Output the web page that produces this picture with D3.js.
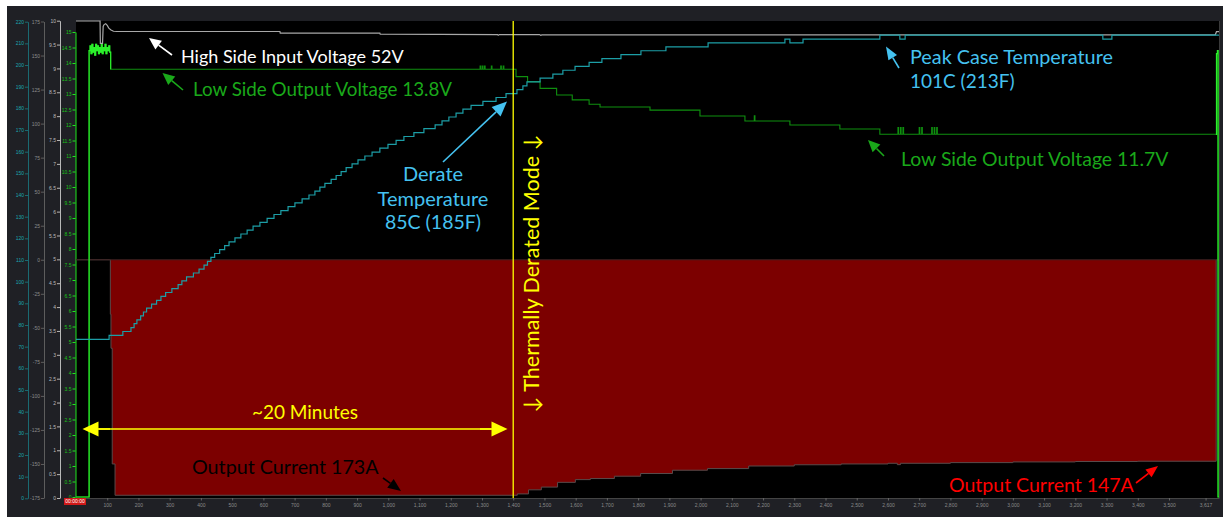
<!DOCTYPE html>
<html>
<head>
<meta charset="utf-8">
<script src="https://cdn.jsdelivr.net/npm/d3@7"></script>
<style>
  html, body { margin: 0; padding: 0; background: #fff; }
  svg { display: block; }
  .ann { font-family: Lato, "Open Sans", sans-serif; font-size: 19px; }
  .tick text { font-family: "Liberation Sans", Arial, sans-serif; }
</style>
</head>
<body>
<script>
// ---- data (time in seconds) ----
var timeTicks = [100, 200, 300, 400, 500, 600, 700, 800, 900, 1000, 1100, 1200, 1300, 1400, 1500, 1600, 1700,
  1800, 1900, 2000, 2100, 2200, 2300, 2400, 2500, 2600, 2700, 2800, 2900, 3000, 3100, 3200, 3300, 3400, 3500, 3617];

var tempAxisTicks = [0, 10, 20, 30, 40, 50, 60, 70, 80, 90, 100, 110, 120, 130, 140, 150, 160, 170, 180, 190, 200, 210, 220];
var currentAxisTicks = [-175, -150, -125, -100, -75, -50, -25, 0, 25, 50, 75, 100, 125, 150, 175];
var scaleAxisTicks = [0, 0.5, 1, 1.5, 2, 2.5, 3, 3.5, 4, 4.5, 5, 5.5, 6, 6.5, 7, 7.5, 8, 8.5, 9, 9.5, 10];
var voltAxisTicks = [0, 0.5, 1, 1.5, 2, 2.5, 3, 3.5, 4, 4.5, 5, 5.5, 6, 6.5, 7, 7.5, 8, 8.5, 9, 9.5, 10,
  10.5, 11, 11.5, 12, 12.5, 13, 13.5, 14, 14.5, 15];

// case temperature [t, degC]  (drawn on the F axis)
var caseTemp = [[0, 23], [106, 24], [150, 25], [176, 26], [186, 27], [195, 28], [207, 29], [216, 30], [226, 31],
  [242, 32], [258, 33], [272, 34], [287, 35], [307, 36], [327, 37], [339, 38], [354, 39], [376, 40], [394, 41],
  [410, 42], [421, 43], [432, 44], [444, 45], [460, 46], [476, 47], [490, 48], [509, 49], [528, 50], [548, 51],
  [567, 52], [589, 53], [612, 54], [634, 55], [656, 56], [679, 57], [701, 58], [724, 59], [746, 60], [765, 61],
  [781, 62], [797, 63], [817, 64], [833, 65], [849, 66], [865, 67], [884, 68], [903, 69], [925, 70], [948, 71],
  [973, 72], [999, 73], [1025, 74], [1050, 75], [1082, 76], [1114, 77], [1150, 78], [1172, 79], [1194, 80],
  [1217, 81], [1239, 82], [1265, 83], [1303, 84], [1345, 85], [1377, 86], [1412, 87], [1431, 88], [1444, 89],
  [1486, 90], [1527, 91], [1559, 92], [1598, 93], [1643, 94], [1684, 95], [1745, 96], [1809, 97], [1889, 98],
  [2024, 99], [2270, 100], [2286, 99], [2328, 100], [2574, 101], [2638, 100], [2655, 101], [3288, 100],
  [3317, 101], [3660, 101]];

// high side input voltage [t, V]
var highSideVolt = [[0, 53.5], [77, 53.5], [78, 51.0], [85, 51.0], [87, 52.9], [90, 53.1], [95, 53.2], [100, 53.0],
  [105, 52.7], [112, 52.5], [120, 52.35], [131, 52.32], [653, 52.32], [654, 52.14], [973, 52.14], [974, 52.03],
  [1350, 51.98], [1352, 51.9], [1356, 51.98], [1484, 51.98], [1488, 51.9], [1492, 51.95], [3648, 51.95],
  [3652, 52.3], [3660, 52.3]];

// low side output voltage [t, V]
var lowSideVolt = [[0, 0], [41, 0], [42, 14.4], [45, 14.55], [48, 14.3], [51, 14.6], [54, 14.35], [57, 14.5],
  [60, 14.25], [63, 14.6], [66, 14.4], [69, 14.55], [72, 14.3], [75, 14.5], [78, 14.35], [81, 14.6], [84, 14.3],
  [87, 14.5], [90, 14.4], [93, 14.6], [96, 14.3], [99, 14.5], [102, 14.4], [105, 14.55], [108, 14.35], [111, 13.8],
  [1294, 13.9], [1296, 13.8], [1301, 13.9], [1303, 13.8], [1308, 13.9], [1310, 13.8], [1330, 13.9], [1332, 13.8],
  [1360, 13.9], [1362, 13.8], [1368, 13.9], [1370, 13.8],
  [1409, 13.56], [1446, 13.4], [1486, 13.18], [1539, 12.97], [1589, 12.81], [1643, 12.67], [1678, 12.58],
  [1838, 12.48], [1998, 12.29], [2142, 12.13], [2172, 12.3], [2174, 12.13], [2286, 12.0], [2446, 11.87],
  [2574, 11.7], [2632, 11.92], [2634, 11.7], [2640, 11.92], [2642, 11.7], [2648, 11.92], [2650, 11.7],
  [2700, 11.92], [2702, 11.7], [2708, 11.92], [2710, 11.7], [2740, 11.92], [2742, 11.7], [2748, 11.92], [2750, 11.7],
  [2756, 11.92], [2758, 11.7], [3650, 11.7], [3652, 14.3], [3655, 14.4], [3657, 0], [3660, 0]];

// output current [t, A]  (load current drawn negative)
var outputCurrent = [[0, 0], [108, 0], [110, -40], [112, -65], [116, -150], [125, -173], [1400, -173],
  [1413, -172], [1449, -169], [1490, -167], [1542, -163.5], [1599, -161.5], [1647, -160.7], [1724, -159],
  [1808, -157], [1910, -154.6], [2022, -153.4], [2154, -151.5], [2300, -150.6], [2450, -150], [2600, -149.5],
  [2630, -150.5], [2640, -149.5], [2800, -149], [3000, -148.5], [3200, -148.2], [3400, -148], [3651, 0], [3660, 0]];

var derateTime = 1400;

// ---- canvas ----
var W = 1223, H = 517;
var plot = {left: 76, right: 1219, top: 21, bottom: 498};

var svg = d3.select("body").append("svg")
  .attr("width", W)
  .attr("height", H);

svg.append("rect").attr("x", 7).attr("y", 6).attr("width", W - 7).attr("height", H - 6).attr("fill", "#1f2025");
svg.append("rect")
  .attr("x", plot.left).attr("y", plot.top)
  .attr("width", plot.right - plot.left).attr("height", plot.bottom - plot.top)
  .attr("fill", "#000");

// scales
var x = d3.scaleLinear().domain([0, 3660]).range([plot.left, plot.right]);
var yTemp = d3.scaleLinear().domain([0, 220]).range([498.3, 21.7]);
var yCur = d3.scaleLinear().domain([-175, 175]).range([498, 21.5]);
var yScale3 = d3.scaleLinear().domain([0, 10]).range([498, 20.7]);
var yLow = d3.scaleLinear().domain([0, 15]).range([497, 32]);
var yHigh = d3.scaleLinear().domain([0, 53.5]).range([498, 21]);

var cToF = c => 32 + 1.8 * c;

drawLeftAxis(28, yTemp, tempAxisTicks, 110, "#1a6a72", "#1aa6ae");
drawLeftAxis(44, yCur, currentAxisTicks, 70, "#5d5d5d", "#8a8a8a");
drawLeftAxis(60, yScale3, scaleAxisTicks, 100, "#b8b8b8", "#bdbdbd");
drawLeftAxis(75.5, yLow, voltAxisTicks, 60, "#1ee61e", "#18c018");
drawTimeAxis();

var plotG = svg.append("g");

// output current as filled area
plotG.append("path")
  .datum(outputCurrent)
  .attr("fill", "#7c0000")
  .attr("d", d3.area()
    .x(d => x(d[0]))
    .y0(yCur(0))
    .y1(d => yCur(d[1]))
    .curve(d3.curveStepAfter));

plotG.append("path")
  .datum(outputCurrent)
  .attr("fill", "none")
  .attr("stroke", "#5a4a4a")
  .attr("stroke-width", 1)
  .attr("d", d3.line().x(d => x(d[0])).y(d => yCur(d[1])).curve(d3.curveStepAfter));

// top edge of current area
plotG.append("line")
  .attr("x1", plot.left).attr("x2", plot.right)
  .attr("y1", yCur(0)).attr("y2", yCur(0))
  .attr("stroke", "#3a2020");

// low side output voltage
var lowLine = d3.line().x(d => x(d[0])).y(d => yLow(d[1])).curve(d3.curveStepAfter);
plotG.append("path")
  .datum(lowSideVolt)
  .attr("fill", "none")
  .attr("stroke", "#0f8f0f")
  .attr("stroke-width", 1.1)
  .attr("d", lowLine);
// startup and shutdown parts are drawn brighter
[lowSideVolt.filter(d => d[0] <= 111), lowSideVolt.filter(d => d[0] >= 3650)].forEach(part => {
  plotG.append("path")
    .datum(part)
    .attr("fill", "none")
    .attr("stroke", "#2cf02c")
    .attr("stroke-width", 1.2)
    .attr("d", lowLine);
});

// high side input voltage
plotG.append("path")
  .datum(highSideVolt)
  .attr("fill", "none")
  .attr("stroke", "#a8a8a8")
  .attr("stroke-width", 1.2)
  .attr("d", d3.line().x(d => x(d[0])).y(d => yHigh(d[1])));

// case temperature
plotG.append("path")
  .datum(caseTemp)
  .attr("fill", "none")
  .attr("stroke", "#1c9ea6")
  .attr("stroke-width", 1.2)
  .attr("d", d3.line().x(d => x(d[0])).y(d => yTemp(cToF(d[1]))).curve(d3.curveStepAfter));

// derate marker
plotG.append("line")
  .attr("x1", x(derateTime)).attr("x2", x(derateTime))
  .attr("y1", plot.top).attr("y2", plot.bottom)
  .attr("stroke", "#ffff00")
  .attr("stroke-width", 1.3);

// right border
svg.append("line").attr("x1", plot.right + 0.5).attr("x2", plot.right + 0.5)
  .attr("y1", plot.top).attr("y2", plot.bottom).attr("stroke", "#3a3a3a");

drawAnnotations();

function drawLeftAxis(xPos, scale, ticks, minorCount, lineColor, textColor) {
  var g = svg.append("g").attr("transform", `translate(${xPos},0)`);
  g.call(d3.axisLeft(scale).ticks(minorCount).tickSize(1.6).tickSizeOuter(0).tickFormat(""));
  g.call(d3.axisLeft(scale).tickValues(ticks).tickSize(3).tickSizeOuter(0).tickPadding(1)
    .tickFormat(d => d.toString()));
  g.selectAll(".domain").attr("stroke", lineColor);
  g.selectAll(".tick line").attr("stroke", lineColor);
  g.selectAll(".tick text").attr("fill", textColor).style("font-size", "5px");
}

function drawTimeAxis() {
  var g = svg.append("g").attr("transform", `translate(0,${plot.bottom})`);
  g.call(d3.axisBottom(x).ticks(180).tickSize(1.5).tickSizeOuter(0).tickFormat(""));
  g.call(d3.axisBottom(x).tickValues(timeTicks).tickSize(2.5).tickSizeOuter(0).tickPadding(2.5)
    .tickFormat(d3.format(",")));
  g.selectAll(".domain").attr("stroke", "#444");
  g.selectAll(".tick line").attr("stroke", "#666");
  g.selectAll(".tick text").attr("fill", "#8a8a8a").style("font-size", "5px");

  // start time badge
  svg.append("rect").attr("x", 64).attr("y", plot.bottom).attr("width", 22).attr("height", 7)
    .attr("fill", "#d01818");
  svg.append("text").attr("x", 75).attr("y", plot.bottom + 5.3)
    .attr("text-anchor", "middle").attr("fill", "#fff")
    .style("font-family", "Liberation Sans, Arial, sans-serif").style("font-size", "5px")
    .text("00:00:00");
}

function arrow(x1, y1, x2, y2, color, head, width, lw) {
  var ang = Math.atan2(y2 - y1, x2 - x1);
  var bx = x2 - head * Math.cos(ang), by = y2 - head * Math.sin(ang);
  var px = -Math.sin(ang) * width / 2, py = Math.cos(ang) * width / 2;
  svg.append("line")
    .attr("x1", x1).attr("y1", y1).attr("x2", bx).attr("y2", by)
    .attr("stroke", color).attr("stroke-width", lw || 1.6);
  svg.append("path")
    .attr("d", `M${x2},${y2}L${bx + px},${by + py}L${bx - px},${by - py}Z`)
    .attr("fill", color);
}

function label(txt, xPos, yPos, color, size, anchor) {
  return svg.append("text").attr("class", "ann")
    .attr("x", xPos).attr("y", yPos)
    .attr("fill", color)
    .attr("text-anchor", anchor || "start")
    .style("font-size", size + "px")
    .text(txt);
}

function drawAnnotations() {
  var green = "#1aa81a", blue = "#45c2f0";

  label("High Side Input Voltage 52V", 181, 63, "#ffffff", 18);
  arrow(172, 55, 149, 38, "#ffffff", 12, 11);

  label("Low Side Output Voltage 13.8V", 193, 96, green, 18.8);
  arrow(183, 90, 162.5, 73, green, 12, 11);

  label("Peak Case Temperature", 910, 64, blue, 19.8);
  label("101C (213F)", 910, 88, blue, 19);
  arrow(899, 68, 886, 46.5, blue, 13, 10);

  label("Low Side Output Voltage 11.7V", 901, 166, green, 19.4);
  arrow(884, 156, 868, 140, green, 12, 11);

  label("Derate", 433, 181, blue, 20, "middle");
  label("Temperature", 433, 206, blue, 20, "middle");
  label("85C (185F)", 433, 229, blue, 19.5, "middle");
  arrow(443, 162, 507, 101.5, blue, 15, 13);

  // thermally derated mode, vertical
  svg.append("text").attr("class", "ann")
    .attr("transform", "translate(539,273.5) rotate(-90)")
    .attr("text-anchor", "middle")
    .attr("fill", "#ffff00")
    .style("font-size", "21.5px")
    .text("\u2193 Thermally Derated Mode \u2193");

  // ~20 minutes span
  var yy = 429;
  svg.append("line").attr("x1", 98).attr("x2", 492).attr("y1", yy).attr("y2", yy)
    .attr("stroke", "#ffff00").attr("stroke-width", 1.6);
  arrow(110, yy, 82.5, yy, "#ffff00", 16, 15);
  arrow(480, yy, 507.5, yy, "#ffff00", 16, 15);
  label("~20 Minutes", 305, 419, "#ffff00", 19, "middle");

  label("Output Current 173A", 192, 474, "#000000", 19.7);
  arrow(383, 478, 401, 491, "#000000", 13, 11);

  label("Output Current 147A", 949, 492, "#ff0000", 19.5);
  arrow(1136, 483, 1158, 466, "#ff0000", 12, 10);
}
</script>
</body>
</html>
